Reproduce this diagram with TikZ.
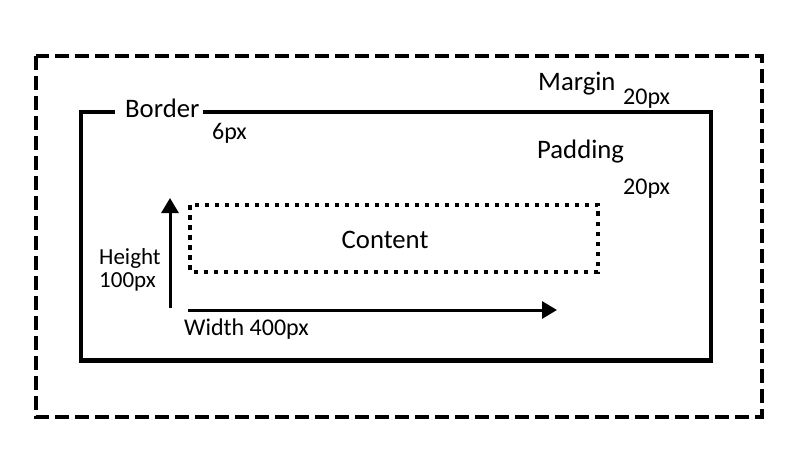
\documentclass[tikz,border=0pt]{standalone}
\usepackage{fontspec}
\setmainfont{Carlito}
\usetikzlibrary{arrows.meta}
\begin{document}
\begin{tikzpicture}[x=1pt,y=-1pt,
  lbl/.style={anchor=base west,inner sep=0pt,font=\fontsize{26.7}{30}\selectfont},
  sml/.style={anchor=base west,inner sep=0pt,font=\fontsize{24}{28}\selectfont},
  marginbox/.style={line width=4pt,dash pattern=on 14pt off 6pt},
  borderline/.style={line width=4.5pt},
  contentbox/.style={line width=4pt,dash pattern=on 4.5pt off 5.5pt},
  dimarrow/.style={line width=3pt,-{Triangle[length=15pt,width=17pt]}}]
\useasboundingbox (0,0) rectangle (800,473);
% margin box
\draw[marginbox] (35.5,56) rectangle (761.5,416.5);
% border with gap for label
\coordinate (bA) at (115,112);
\coordinate (bB) at (203,112);
\draw[borderline,line join=miter] (bA) -- (81,112) -- (81,360.5) -- (711,360.5) -- (711,112) -- (bB);
% content
\draw[contentbox] (190,205) rectangle (598,271.5);
% labels
\node[lbl] (margin) at (538,90.7) {Margin};
\node[sml] (marginpx) at (623,105) {20px};
\node[lbl] (border) at (125,117.3) {Border};
\node[sml] (borderpx) at (212,140) {6px};
\node[lbl] (padding) at (537,158.3) {Padding};
\node[sml] (paddingpx) at (623,195) {20px};
\node[lbl] (content) at (341.5,248) {Content};
\node[sml,font=\fontsize{23}{26}\selectfont] (height) at (99,264) {Height};
\node[sml,font=\fontsize{23}{26}\selectfont] (heightpx) at (99,287) {100px};
\node[sml] (width) at (184,335.3) {Width 400px};
% arrows
\coordinate (h0) at (170,308);
\coordinate (h1) at (170,198);
\coordinate (w0) at (188,310);
\coordinate (w1) at (557,310);
\draw[dimarrow] (h0) -- (h1);
\draw[dimarrow] (w0) -- (w1);
\end{tikzpicture}
\end{document}
